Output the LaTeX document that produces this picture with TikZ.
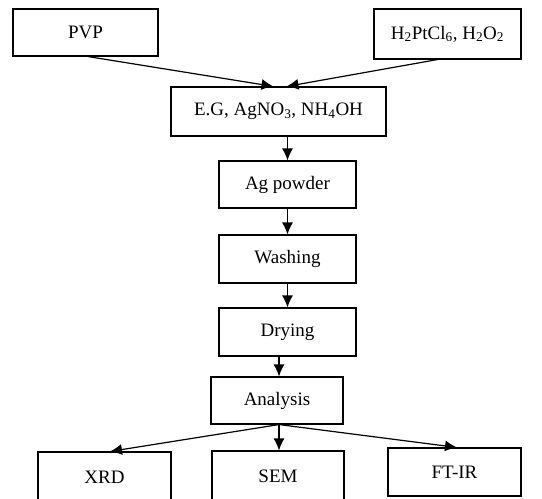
\documentclass[tikz,border=0pt]{standalone}
\usepackage{fontspec}
\setmainfont{Liberation Serif}
\usetikzlibrary{arrows.meta}
\begin{document}
\begin{tikzpicture}[x=1pt,y=-1pt,
  box/.style={draw, line width=1.1pt, inner sep=0pt, font=\fontsize{19}{22}\selectfont},
  arr/.style={draw, line width=1.2pt, -{Latex[length=12pt,width=11pt]}}]
\useasboundingbox (0,0) rectangle (542,499);
\clip (0,0) rectangle (542,499);
\node[box, minimum width=145pt, minimum height=47pt] (pvp) at (85.5,32.5) {PVP};
\node[box, minimum width=147pt, minimum height=50pt] (hpt) at (447.5,34) {H\textsubscript{2}PtCl\textsubscript{6}, H\textsubscript{2}O\textsubscript{2}};
\node[box, minimum width=215pt, minimum height=49pt] (eg) at (278.5,111.5) {E.G, AgNO\textsubscript{3}, NH\textsubscript{4}OH};
\node[box, minimum width=137pt, minimum height=47pt] (ag) at (287.5,184.5) {Ag powder};
\node[box, minimum width=137pt, minimum height=48pt] (wash) at (287.5,259) {Washing};
\node[box, minimum width=137pt, minimum height=48pt] (dry) at (287.5,332) {Drying};
\node[box, minimum width=132pt, minimum height=47pt] (ana) at (277,400.5) {Analysis};
\node[box, minimum width=133pt, minimum height=50pt] (xrd) at (104.5,477) {XRD};
\node[box, minimum width=132pt, minimum height=50pt] (sem) at (278,476) {SEM};
\node[box, minimum width=133pt, minimum height=48pt] (ftir) at (454.5,472) {FT-IR};
\draw[arr] ([xshift=2.5pt]pvp.south) -- ([xshift=-5pt]eg.north);
\draw[arr] ([xshift=-10pt]hpt.south) -- ([xshift=8pt]eg.north);
\draw[arr] (eg.south -| ag.north) -- (ag.north);
\draw[arr] (ag) -- (wash);
\draw[arr] (wash) -- (dry);
\draw[arr] ([xshift=2pt]dry.south -| ana.north) -- ([xshift=2pt]ana.north);
\draw[arr] ([xshift=2pt]ana.south) -- ([xshift=5.5pt]xrd.north);
\draw[arr] ([xshift=2pt]ana.south) -- ([xshift=1pt]sem.north);
\draw[arr] ([xshift=2pt]ana.south) -- ([xshift=2.5pt]ftir.north);
\end{tikzpicture}
\end{document}
